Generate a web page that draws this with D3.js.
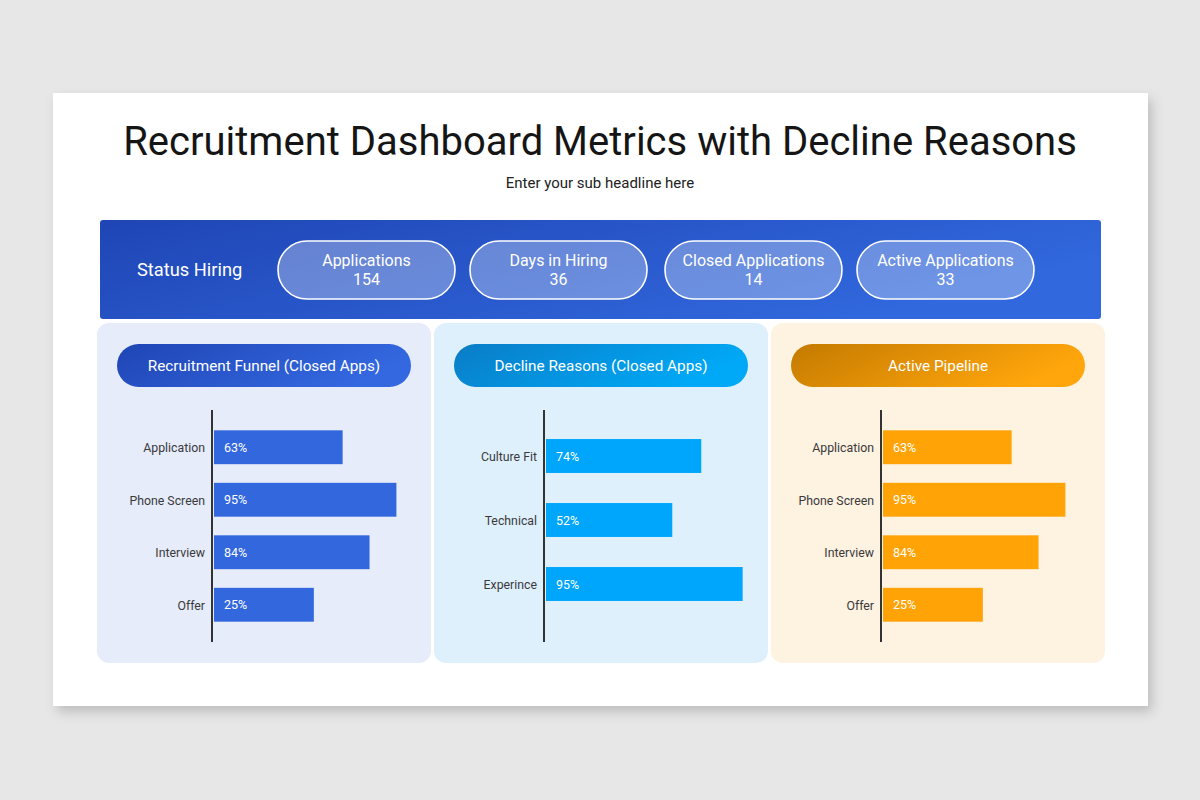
<!DOCTYPE html>
<html><head><meta charset="utf-8">
<script src="https://cdn.jsdelivr.net/npm/d3@7"></script>
<style>
html,body{margin:0;padding:0;background:#e8e7e8;}
svg{display:block;font-family:Roboto,"Noto Sans",sans-serif;}
</style></head>
<body>
<svg id="c" width="1200" height="800"></svg>
<script>
// ---- data ----
const title = "Recruitment Dashboard Metrics with Decline Reasons";
const subtitle = "Enter your sub headline here";
const statusLabel = "Status Hiring";
const kpiNames = ["Applications", "Days in Hiring", "Closed Applications", "Active Applications"];
const kpiValues = [154, 36, 14, 33];

const panelTitles = ["Recruitment Funnel (Closed Apps)", "Decline Reasons (Closed Apps)", "Active Pipeline"];

const funnelStages = ["Application", "Phone Screen", "Interview", "Offer"];
const funnelLabels = [63, 95, 84, 25];      // printed percentages
const funnelBars = [67, 95, 81, 52];        // bar extents

const declineReasons = ["Culture Fit", "Technical", "Experince"];
const declineLabels = [74, 52, 95];
const declineBars = [75, 61, 95];

const pipelineStages = ["Application", "Phone Screen", "Interview", "Offer"];
const pipelineLabels = [63, 95, 84, 25];
const pipelineBars = [67, 95, 81, 52];

// ---- drawing ----
const svg = d3.select("#c");
const defs = svg.append("defs");

const sh = defs.append("filter").attr("id","shadow").attr("x","-10%").attr("y","-10%").attr("width","130%").attr("height","130%");
sh.append("feDropShadow").attr("dx",4).attr("dy",6).attr("stdDeviation",6).attr("flood-color","#000").attr("flood-opacity",0.18);

function lin(id, c1, c2, x2, y2){
  const g = defs.append("linearGradient").attr("id",id).attr("x1","0%").attr("y1","0%").attr("x2",x2||"100%").attr("y2",y2||"0%");
  g.append("stop").attr("offset","0%").attr("stop-color",c1);
  g.append("stop").attr("offset","100%").attr("stop-color",c2);
}
lin("band", "#1f45b5", "#3168dd", "100%", "40%");
lin("h1", "#1f45b5", "#3468e0", "100%", "30%");
lin("h2", "#0a7cc6", "#00a9f7", "100%", "30%");
lin("h3", "#c47a00", "#ffa60c", "100%", "30%");

// white card
svg.append("rect").attr("x",53).attr("y",93).attr("width",1095).attr("height",613)
  .attr("fill","#fff").attr("filter","url(#shadow)");

svg.append("text").attr("x",600).attr("y",155).attr("text-anchor","middle")
  .attr("font-size",40).attr("fill","#151515").text(title);
svg.append("text").attr("x",600).attr("y",188).attr("text-anchor","middle")
  .attr("font-size",15).attr("fill","#222").text(subtitle);

// status band
svg.append("rect").attr("x",100).attr("y",220).attr("width",1001).attr("height",99)
  .attr("rx",3).attr("fill","url(#band)");
svg.append("text").attr("x",137).attr("y",276).attr("font-size",18.3).attr("fill","#fff").text(statusLabel);

const pillX = [278, 470, 665, 857];
const pillW = 177;
const kg = svg.selectAll("g.kpi").data(kpiNames).join("g").attr("class","kpi")
  .attr("transform",(d,i)=>`translate(${pillX[i]},241)`);
kg.append("rect").attr("width",pillW).attr("height",58).attr("rx",29)
  .attr("fill","rgba(255,255,255,0.3)").attr("stroke","#fff").attr("stroke-width",1.6);
kg.append("text").attr("x",pillW/2).attr("y",25).attr("text-anchor","middle")
  .attr("font-size",16).attr("fill","#fff").text(d=>d);
kg.append("text").attr("x",pillW/2).attr("y",44).attr("text-anchor","middle")
  .attr("font-size",16).attr("fill","#fff").text((d,i)=>kpiValues[i]);

// panels
const panels = [
  {x:97, fill:"#e6ecfa", head:"url(#h1)", bar:"#3367de", cats:funnelStages, bars:funnelBars, labels:funnelLabels,
   axisX:212, xr:192, yr:[421,631], pad:0.355},
  {x:434, fill:"#dff0fd", head:"url(#h2)", bar:"#00a6fb", cats:declineReasons, bars:declineBars, labels:declineLabels,
   axisX:544, xr:207, yr:[424,616], pad:0.47},
  {x:771, fill:"#fef2e1", head:"url(#h3)", bar:"#ffa306", cats:pipelineStages, bars:pipelineBars, labels:pipelineLabels,
   axisX:881, xr:192, yr:[421,631], pad:0.355}
];

panels.forEach((p, pi) => {
  const g = svg.append("g");
  g.append("rect").attr("x",p.x).attr("y",323).attr("width",334).attr("height",340).attr("rx",12).attr("fill",p.fill);
  g.append("rect").attr("x",p.x+20).attr("y",344).attr("width",294).attr("height",43).attr("rx",21.5).attr("fill",p.head);
  g.append("text").attr("x",p.x+167).attr("y",371).attr("text-anchor","middle")
    .attr("font-size",15.3).attr("fill","#fff").text(panelTitles[pi]);

  const x = d3.scaleLinear().domain([0,100]).range([0,p.xr]);
  const y = d3.scaleBand().domain(p.cats).range(p.yr).paddingInner(p.pad).paddingOuter(p.pad/2);
  const x0 = p.axisX + 2;

  g.selectAll("rect.bar").data(p.cats).join("rect").attr("class","bar")
    .attr("x",x0).attr("y",d=>y(d)).attr("height",y.bandwidth())
    .attr("width",(d,i)=>x(p.bars[i])).attr("fill",p.bar);
  g.selectAll("text.val").data(p.cats).join("text").attr("class","val")
    .attr("x",x0+10).attr("y",d=>y(d)+y.bandwidth()/2+4.5)
    .attr("font-size",12.5).attr("fill","#fff").text((d,i)=>p.labels[i]+"%");

  const ax = g.append("g").attr("transform",`translate(${p.axisX},0)`)
    .call(d3.axisLeft(y).tickSize(0).tickPadding(7));
  ax.select(".domain").remove();
  ax.selectAll("text").attr("font-size",12.3).attr("fill","#3a3a3a").attr("font-family","Roboto, sans-serif")
    .attr("dy","0.4em");
  g.append("line").attr("x1",p.axisX).attr("x2",p.axisX).attr("y1",410).attr("y2",642)
    .attr("stroke","#333").attr("stroke-width",2);
});
</script>
</body></html>
